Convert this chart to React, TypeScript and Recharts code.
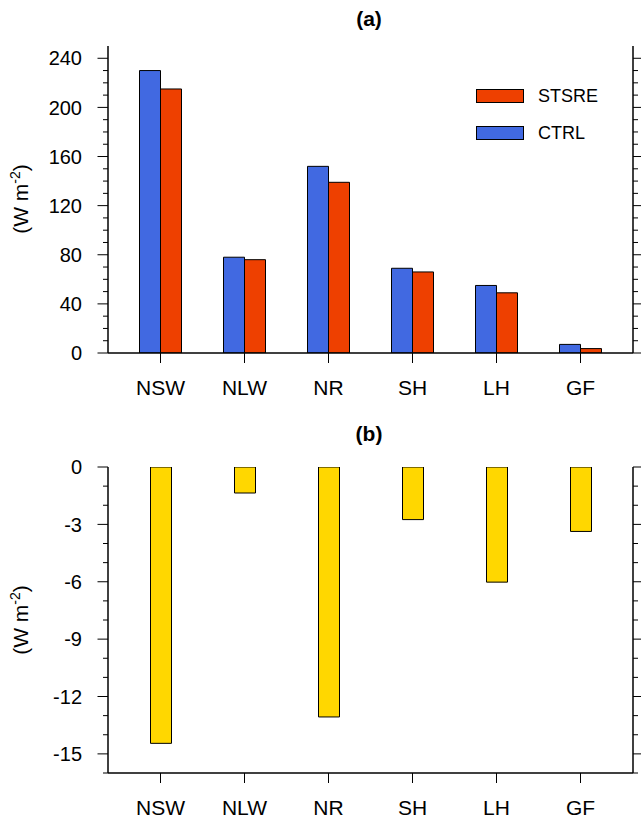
import React from 'react';
import { BarChart, Bar, XAxis, YAxis, Legend } from 'recharts';

const categories = ['NSW', 'NLW', 'NR', 'SH', 'LH', 'GF'];
const ctrlValues = [230, 78, 152, 69, 55, 7];
const stsreValues = [215, 76, 139, 66, 49, 3.6];
const diffValues = [-14.45, -1.36, -13.07, -2.75, -6.02, -3.37];

const topTicks = [0, 10, 20, 30, 40, 50, 60, 70, 80, 90, 100, 110, 120, 130, 140, 150, 160, 170, 180, 190, 200, 210, 220, 230, 240];
const topMajor = [0, 40, 80, 120, 160, 200, 240];
const bottomTicks = [-16, -15, -14, -13, -12, -11, -10, -9, -8, -7, -6, -5, -4, -3, -2, -1, 0];
const bottomMajor = [-15, -12, -9, -6, -3, 0];

const topData = categories.map((name, i) => ({ name, ctrl: ctrlValues[i], stsre: stsreValues[i] }));
const bottomData = categories.map((name, i) => ({ name, diff: diffValues[i] }));

const FONT = '"Liberation Sans", Arial, Helvetica, sans-serif';
const BLUE = '#4169E1';
const RED = '#EE4000';
const GOLD = '#FFD700';

const makeYTick = (majors: number[], side: 'left' | 'right', showLabel: boolean) => (props: any) => {
  const { x, y, payload } = props;
  const v = payload.value;
  const isMajor = majors.includes(v);
  const len = isMajor ? 10.5 : 5;
  const dir = side === 'left' ? -1 : 1;
  return (
    <g>
      <line x1={x} y1={y} x2={x + dir * len} y2={y} stroke="#000" strokeWidth={1} />
      {showLabel && isMajor && (
        <text x={x - 26} y={y} dy="0.36em" textAnchor="end" fontSize={20} fill="#000" fontFamily={FONT}>
          {v}
        </text>
      )}
    </g>
  );
};

const LegendContent = (props: any) => {
  const items = [...(props.payload || [])].reverse();
  return (
    <div style={{ fontFamily: FONT }}>
      {items.map((it: any, i: number) => (
        <div key={i} style={{ display: 'flex', alignItems: 'center', height: 22, marginBottom: 15.6 }}>
          <div style={{ width: 46, height: 12, background: it.color, border: '1px solid #000' }} />
          <span style={{ marginLeft: 14, fontSize: 18, color: '#000', lineHeight: '22px' }}>{it.value}</span>
        </div>
      ))}
    </div>
  );
};

const axisLine = { stroke: '#000', strokeWidth: 1.5 };

const YUnit = ({ cy }: { cy: number }) => (
  <div
    style={{
      position: 'absolute',
      left: 22,
      top: cy,
      transform: 'translate(-50%, -50%) rotate(-90deg)',
      whiteSpace: 'nowrap',
      fontSize: 21,
      fontFamily: FONT,
      color: '#000',
      lineHeight: '24px',
    }}
  >
    (W m<span style={{ fontSize: 14, position: 'relative', top: -8 }}>-2</span>)
  </div>
);

const Title = ({ text, cy }: { text: string; cy: number }) => (
  <div
    style={{
      position: 'absolute',
      left: 369,
      top: cy,
      transform: 'translate(-50%, -50%)',
      fontSize: 21,
      fontWeight: 'bold',
      fontFamily: FONT,
      color: '#000',
      whiteSpace: 'nowrap',
    }}
  >
    {text}
  </div>
);

export default function App() {
  return (
    <div style={{ position: 'absolute', left: 0, top: 0, width: 641, height: 823, background: '#fff', overflow: 'hidden' }}>
      <div style={{ position: 'absolute', left: 0, top: 0 }}>
        <BarChart width={641} height={415} data={topData} margin={{ top: 46, right: 0, bottom: 12, left: 0 }} barGap={0}>
          <XAxis xAxisId="top" dataKey="name" orientation="top" height={0} tick={false} tickLine={false} axisLine={axisLine} padding={{ left: 10.5, right: 10.5 }} />
          <XAxis
            dataKey="name"
            interval={0}
            tickSize={10}
            tickMargin={17}
            height={50}
            axisLine={axisLine}
            tickLine={{ stroke: '#000', strokeWidth: 1 }}
            tick={{ fill: '#000', fontSize: 21, fontFamily: FONT }}
            padding={{ left: 10.5, right: 10.5 }}
          />
          <YAxis yAxisId="left" type="number" width={108} domain={[0, 250]} ticks={topTicks} interval={0} allowDataOverflow tickSize={0} tickMargin={0} tickLine={false} axisLine={axisLine} tick={makeYTick(topMajor, 'left', true)} />
          <YAxis yAxisId="right" orientation="right" type="number" width={8} domain={[0, 250]} ticks={topTicks} interval={0} allowDataOverflow tickSize={0} tickMargin={0} tickLine={false} axisLine={axisLine} tick={makeYTick(topMajor, 'right', false)} />
          <Legend layout="vertical" align="center" verticalAlign="middle" wrapperStyle={{ left: 476, top: 84.7, width: 160, height: 80 }} content={<LegendContent />} />
          <Bar yAxisId="left" dataKey="ctrl" name="CTRL" fill={BLUE} stroke="#000" strokeWidth={1} barSize={21} isAnimationActive={false} />
          <Bar yAxisId="left" dataKey="stsre" name="STSRE" fill={RED} stroke="#000" strokeWidth={1} barSize={21} isAnimationActive={false} />
        </BarChart>
      </div>
      <div style={{ position: 'absolute', left: 0, top: 415 }}>
        <BarChart width={641} height={408} data={bottomData} margin={{ top: 52, right: 0, bottom: 0, left: 0 }} barGap={0}>
          <XAxis xAxisId="top" dataKey="name" orientation="top" height={0} tick={false} tickLine={false} axisLine={axisLine} padding={{ left: 10.5, right: 10.5 }} />
          <XAxis
            dataKey="name"
            interval={0}
            tickSize={10}
            tickMargin={17}
            height={50}
            axisLine={axisLine}
            tickLine={{ stroke: '#000', strokeWidth: 1 }}
            tick={{ fill: '#000', fontSize: 21, fontFamily: FONT }}
            padding={{ left: 10.5, right: 10.5 }}
          />
          <YAxis yAxisId="left" type="number" width={108} domain={[-16, 0]} ticks={bottomTicks} interval={0} allowDataOverflow tickSize={0} tickMargin={0} tickLine={false} axisLine={axisLine} tick={makeYTick(bottomMajor, 'left', true)} />
          <YAxis yAxisId="right" orientation="right" type="number" width={8} domain={[-16, 0]} ticks={bottomTicks} interval={0} allowDataOverflow tickSize={0} tickMargin={0} tickLine={false} axisLine={axisLine} tick={makeYTick(bottomMajor, 'right', false)} />
          <Bar yAxisId="left" dataKey="diff" name="STSRE-CTRL" fill={GOLD} stroke="#000" strokeWidth={1} barSize={21} isAnimationActive={false} />
        </BarChart>
      </div>
      <Title text="(a)" cy={19} />
      <Title text="(b)" cy={434} />
      <YUnit cy={199} />
      <YUnit cy={620} />
    </div>
  );
}
